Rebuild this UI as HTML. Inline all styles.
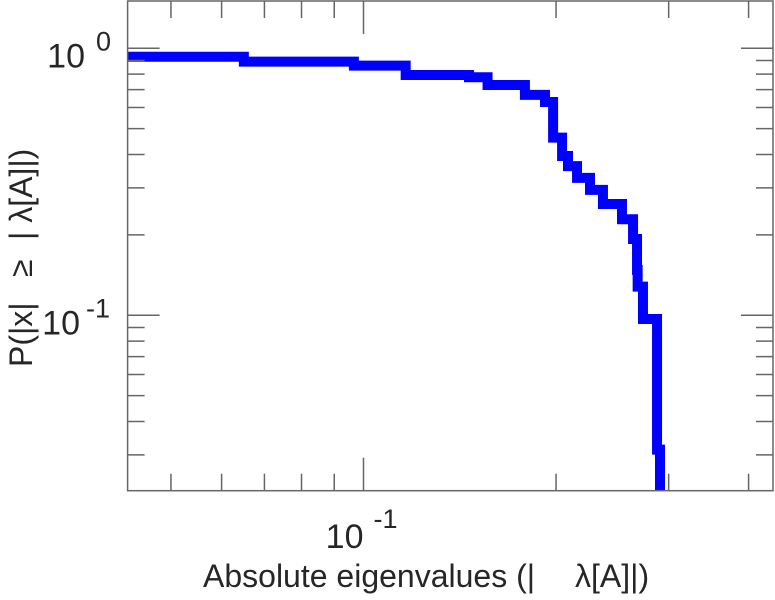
<!DOCTYPE html>
<html><head><meta charset="utf-8"><style>
html,body{margin:0;padding:0;background:#fff;}
svg{display:block;font-family:"Liberation Sans","DejaVu Sans",sans-serif;}
</style></head><body>
<svg id="chart" width="775" height="600" viewBox="0 0 775 600" xmlns="http://www.w3.org/2000/svg">
<defs><clipPath id="clip"><rect x="127.6" y="1" width="645.4" height="489.7"/></clipPath></defs>
<g id="series" clip-path="url(#clip)"></g>
<rect x="127.6" y="1" width="645.4" height="489.7" fill="none" stroke="#666" stroke-width="1.5"/>
<g id="ticks"></g>
<g id="labels" fill="#262626"></g>
<g fill="#262626" font-size="32">
<text x="203" y="587">Absolute eigenvalues (|</text>
<text x="575" y="587">λ[A]|)</text>
</g>
<g fill="#262626" font-size="32">
<text transform="translate(32,367) rotate(-90)">P(|x|</text>
<text transform="translate(32,277) rotate(-90)">≥</text>
<text transform="translate(32,240) rotate(-90)">| λ[A]|)</text>
</g>
</svg>
<script>
const breaksX = [0.0428,0.0650,0.0966,0.1164,0.1462,0.1563,0.1788,0.1922,0.1979,0.2044,0.2088,0.2157,0.2260,0.2368,0.2536,0.2639,0.2677,0.2683,0.2735,0.2877,0.2908];
const levelsY = [0.930,0.891,0.861,0.794,0.779,0.729,0.669,0.629,0.463,0.395,0.362,0.327,0.295,0.261,0.229,0.193,0.148,0.128,0.0969,0.0314,0.01];
const xTickMajor = [0.1];
const xTickMinor = [0.05,0.06,0.07,0.08,0.09,0.2,0.3,0.4];
const yTickMajor = [1,0.1];
const yTickMinor = [0.9,0.8,0.7,0.6,0.5,0.4,0.3,0.2,0.09,0.08,0.07,0.06,0.05,0.04,0.03];
const xLabels = [{v:0.1,base:"10",exp:"-1"}];
const yLabels = [{v:1,base:"10",exp:"0"},{v:0.1,base:"10",exp:"-1"}];

const L=127.6,R=773,T=1,B=490.7;
const xDec=639.6, x01=363.5, yDec=267, y1=48.3;
function xs(v){return x01+Math.log10(v/0.1)*xDec;}
function ys(v){return y1-Math.log10(v)*yDec;}
const NS="http://www.w3.org/2000/svg";
function mk(tag,attrs,parent){const e=document.createElementNS(NS,tag);for(const k in attrs)e.setAttribute(k,attrs[k]);parent.appendChild(e);return e;}

let pts=[];
for(let i=0;i<levelsY.length;i++){
  const x0=xs(breaksX[i]);
  const x1=i+1<breaksX.length?xs(breaksX[i+1]):x0;
  const y=ys(levelsY[i]);
  pts.push(x0+","+y);
  pts.push(x1+","+y);
}
const sg=document.getElementById('series');
const line=mk('polyline',{points:pts.join(' '),fill:'none',stroke:'#0000ff','stroke-width':10,'stroke-linejoin':'miter','stroke-linecap':'butt'},sg);



const tg=document.getElementById('ticks');
function tick(x1,y1,x2,y2,name){const t=mk('line',{x1,y1,x2,y2,stroke:'#666','stroke-width':1.5},tg);}
xTickMajor.forEach(v=>{const x=xs(v);tick(x,B,x,B-33,'x-major-tick');tick(x,T,x,T+33,'x-major-tick');});
xTickMinor.forEach(v=>{const x=xs(v);tick(x,B,x,B-17,'x-minor-tick');tick(x,T,x,T+17,'x-minor-tick');});
yTickMajor.forEach(v=>{const y=ys(v);tick(L,y,L+32,y,'y-major-tick');tick(R,y,R-32,y,'y-major-tick');});
yTickMinor.forEach(v=>{const y=ys(v);if(y<B&&y>T){tick(L,y,L+17,y,'y-minor-tick');tick(R,y,R-17,y,'y-minor-tick');}});

const lg=document.getElementById('labels');
xLabels.forEach(l=>{
  const t=mk('text',{x:xs(l.v),y:548,'font-size':34,'text-anchor':'end'},lg);
  
  
  t.textContent=l.base;
  const s=mk('text',{x:xs(l.v)+10,y:528,'font-size':27},lg);
  s.textContent=l.exp;
});
yLabels.forEach(l=>{
  const y=ys(l.v);
  const right=l.exp==="0"?85:80;
  const supx=l.exp==="0"?96:86;
  const t=mk('text',{x:right,y:y+19,'font-size':34,'text-anchor':'end'},lg);
  
  
  t.textContent=l.base;
  const s=mk('text',{x:supx,y:y+2,'font-size':27},lg);
  s.textContent=l.exp;
});
</script>
</body></html>
